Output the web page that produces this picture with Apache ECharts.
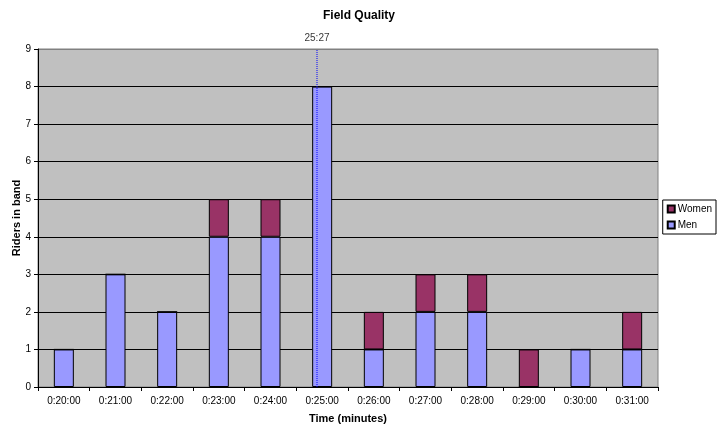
<!DOCTYPE html>
<html>
<head>
<meta charset="utf-8">
<script src="https://cdn.jsdelivr.net/npm/echarts@6/dist/echarts.min.js"></script>
<style>html,body{margin:0;padding:0;background:#fff}#c{width:718px;height:426px}</style>
</head>
<body>
<div id="c"></div>
<script>
var categories = ['0:20:00','0:21:00','0:22:00','0:23:00','0:24:00','0:25:00','0:26:00','0:27:00','0:28:00','0:29:00','0:30:00','0:31:00'];
var menValues = [1,3,2,4,4,8,1,2,2,0,1,1];
var womenValues = [0,0,0,1,1,0,1,1,1,1,0,1];
var yTicks = [0,1,2,3,4,5,6,7,8,9];
var markerPosition = 4.9;
var markerLabel = '25:27';

var font = 'Liberation Sans, Arial, sans-serif';
var chart = echarts.init(document.getElementById('c'));
chart.setOption({
  animation: false,
  backgroundColor: '#ffffff',
  textStyle: {fontFamily: font},
  title: {
    text: 'Field Quality', left: 'center', top: 5,
    textStyle: {fontSize: 12, fontWeight: 'bold', color: '#000', fontFamily: font}
  },
  legend: {
    orient: 'vertical', right: 2, top: 200,
    data: ['Women', 'Men'], icon: 'rect',
    backgroundColor: '#fff', borderColor: '#000', borderWidth: 1,
    padding: [4, 4, 4, 4], itemGap: 6,
    itemWidth: 7, itemHeight: 7,
    textStyle: {fontSize: 10, color: '#000', fontFamily: font, padding: [0,0,0,-2]}
  },
  graphic: [{
    type: 'text', x: 17, y: 218, rotation: Math.PI / 2,
    style: {text: 'Riders in band', fill: '#000', font: 'bold 11px Liberation Sans, Arial, sans-serif', textAlign: 'center', textVerticalAlign: 'middle'}
  }],
  grid: {
    left: 38, right: 60, top: 49, bottom: 39, show: true,
    outerBoundsMode: 'none', containLabel: false,
    backgroundColor: '#c0c0c0', borderColor: '#808080', borderWidth: 1
  },
  xAxis: [{
    type: 'category', data: categories,
    name: 'Time (minutes)', nameLocation: 'middle', nameGap: 26,
    nameTextStyle: {fontSize: 11, fontWeight: 'bold', color: '#000', fontFamily: font},
    axisLine: {onZero: false, lineStyle: {color: '#000', width: 1}},
    axisTick: {show: true, alignWithLabel: false, length: 4, lineStyle: {color: '#000'}},
    axisLabel: {fontSize: 10, color: '#000', margin: 9, fontFamily: font},
    splitLine: {show: false}
  }, {
    type: 'value', min: -0.5, max: 11.5, show: false
  }],
  yAxis: {
    type: 'value', min: 0, max: 9, interval: 1,
    axisLine: {show: true, onZero: false, lineStyle: {color: '#000', width: 1}},
    axisTick: {show: true, length: 4, lineStyle: {color: '#000'}},
    axisLabel: {fontSize: 10, color: '#000', margin: 7, fontFamily: font,
      formatter: function(v){ return yTicks.indexOf(v) >= 0 ? String(v) : ''; }},
    splitLine: {show: true, lineStyle: {color: ['#000','#000','#000','#000','#000','#000','#000','#000','#000','#808080'], width: 1}}
  },
  series: [{
    name: 'Men', type: 'bar', stack: 'total', data: menValues,
    barWidth: 20,
    itemStyle: {color: '#9999ff', borderColor: '#000', borderWidth: 1}
  }, {
    name: 'Women', type: 'bar', stack: 'total', data: womenValues,
    barWidth: 20,
    itemStyle: {color: '#993366', borderColor: '#000', borderWidth: 1}
  }, {
    name: 'marker', type: 'line', xAxisIndex: 1, symbol: 'none', clip: false,
    lineStyle: {color: '#0000ff', width: 1, type: [1, 1]},
    data: [[markerPosition, 0], [markerPosition, 9]],
    z: 5
  }, {
    name: 'markerLabel', type: 'scatter', xAxisIndex: 1, clip: false,
    symbolSize: 1, itemStyle: {color: 'rgba(0,0,0,0)'},
    data: [[markerPosition, 9]],
    label: {show: true, position: 'top', distance: 5, formatter: markerLabel, fontSize: 10, color: '#000', fontFamily: font},
    labelLayout: {hideOverlap: false},
    z: 6
  }]
});
</script>
</body>
</html>
